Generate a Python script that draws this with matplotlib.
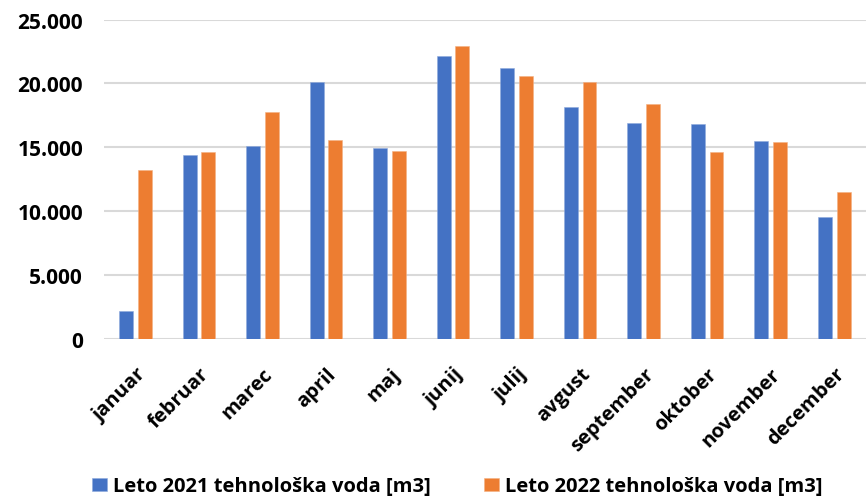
import numpy as np
import matplotlib.pyplot as plt
from matplotlib.ticker import FuncFormatter

# monthly values
months = ['januar', 'februar', 'marec', 'april', 'maj', 'junij', 'julij',
          'avgust', 'september', 'oktober', 'november', 'december']
voda_2021 = [2190, 14420, 15100, 20140, 14920, 22130, 21190, 18160, 16880, 16820, 15470, 9510]
voda_2022 = [13220, 14600, 17760, 15600, 14730, 22910, 20590, 20140, 18390, 14600, 15410, 11470]
series_names = ['Leto 2021 tehnološka voda [m3]', 'Leto 2022 tehnološka voda [m3]']

plt.rcParams['font.family'] = ['Open Sans', 'DejaVu Sans']
plt.rcParams['font.weight'] = 'bold'

fig = plt.figure(figsize=(8.66, 5.02), dpi=100)
ax = fig.add_axes([0.120, 0.3233, 0.880, 0.6357])

x = np.arange(len(months))
w = 0.22
ax.bar(x - 0.146, voda_2021, w, color='#4472C4', edgecolor='#8FAADC', linewidth=0.4,
       label=series_names[0], zorder=3)
ax.bar(x + 0.146, voda_2022, w, color='#ED7D31', edgecolor='#F4B183', linewidth=0.4,
       label=series_names[1], zorder=3)

ax.set_xlim(-0.5, len(months) - 0.5)
ax.set_ylim(0, 25000)
ax.set_yticks(np.arange(0, 25001, 5000))
ax.yaxis.set_major_formatter(FuncFormatter(lambda v, p: f'{int(v):,}'.replace(',', '.')))
ax.grid(axis='y', color='#D9D9D9', linewidth=1.5, zorder=0)
for s in ax.spines.values():
    s.set_visible(False)
ax.tick_params(axis='both', length=0)
ax.tick_params(axis='y', pad=15, labelsize=15)
for lbl in ax.get_yticklabels():
    lbl.set_fontweight('bold')

ax.set_xticks(x)
ax.set_xticklabels(months, rotation=45, ha='right', va='top', rotation_mode='anchor',
                   fontweight='bold', fontsize=14.5)
ax.tick_params(axis='x', pad=18)

fig.legend(loc='lower center', bbox_to_anchor=(0.528, -0.027), ncol=2, frameon=False,
           handlelength=0.75, handleheight=0.65, handletextpad=0.3,
           columnspacing=2.6, prop={'weight': 'bold', 'size': 14.5})

fig.savefig('out.png', dpi=100)
